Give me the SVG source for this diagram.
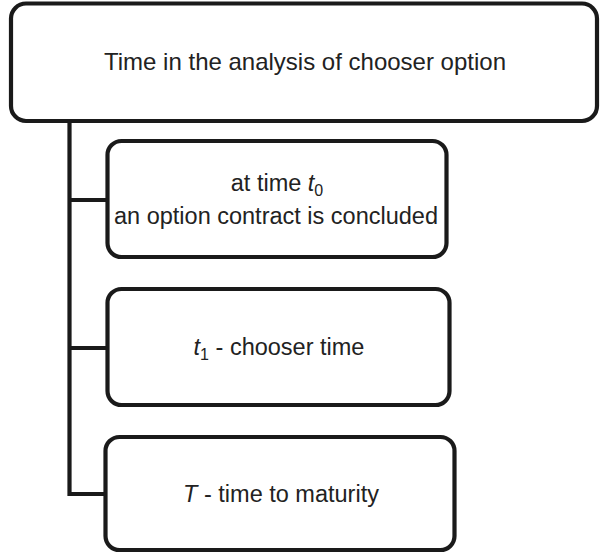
<svg xmlns="http://www.w3.org/2000/svg" width="600" height="555" viewBox="0 0 600 555">
<style>
.box{fill:#fff;stroke:#1a1a1a;stroke-width:4.2}
.conn{fill:none;stroke:#1a1a1a;stroke-width:4.2}
text{font-family:"Liberation Sans",Arial,sans-serif;fill:#222;text-anchor:middle}
.it{font-style:italic}
.sub{font-size:16px}
</style>
<rect width="600" height="555" fill="#fff"/>
<g id="connectors">
<path class="conn" d="M69.5 121 V494 H106"/>
<path class="conn" d="M69.5 200 H108"/>
<path class="conn" d="M69.5 348 H108"/>
</g>
<g id="root">
<rect class="box" x="11" y="3.5" width="586" height="117.5" rx="15"/>
<text x="305" y="70" font-size="24">Time in the analysis of chooser option</text>
</g>
<g id="n1">
<rect class="box" x="107.5" y="141" width="339" height="116" rx="14"/>
<text x="277" y="191" font-size="23.5">at time <tspan class="it">t</tspan><tspan class="sub" dy="5">0</tspan></text>
<text x="276" y="224" font-size="23.5">an option contract is concluded</text>
</g>
<g id="n2">
<rect class="box" x="107.5" y="289" width="342" height="116" rx="14"/>
<text x="279" y="355" font-size="23.5"><tspan class="it">t</tspan><tspan class="sub" dy="5">1</tspan><tspan dy="-5"> - chooser time</tspan></text>
</g>
<g id="n3">
<rect class="box" x="105.5" y="437" width="349" height="113" rx="14"/>
<text x="281" y="502" font-size="23.5"><tspan class="it">T</tspan> - time to maturity</text>
</g>
</svg>
